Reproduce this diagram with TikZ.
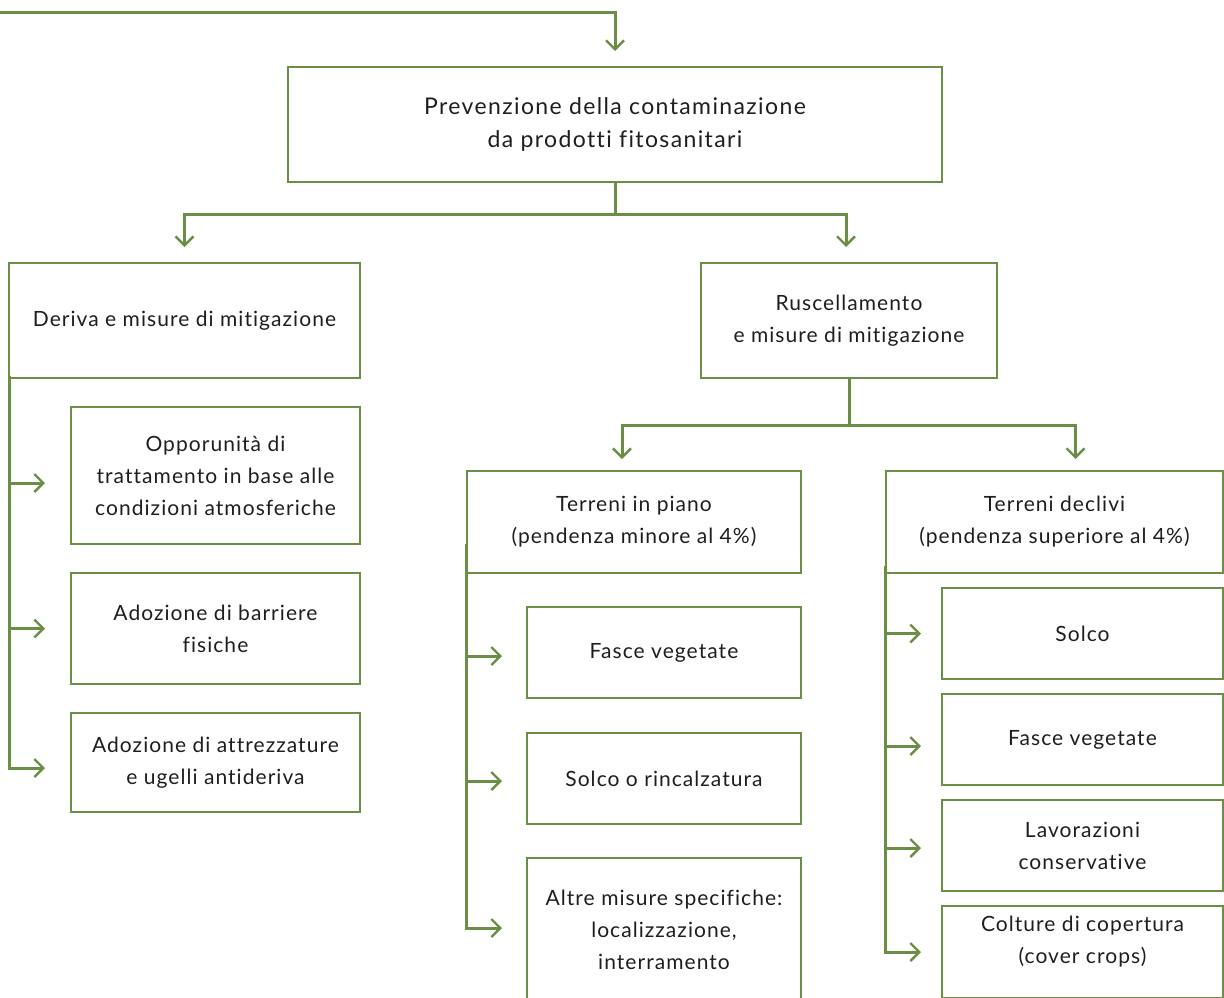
\documentclass[tikz,border=0pt]{standalone}
\usepackage{fontspec}
\setmainfont[Ligatures=CommonOff, LetterSpace=5]{Lato}
\newfontfamily\topfont[Ligatures=CommonOff, LetterSpace=6]{Lato}
\usetikzlibrary{arrows.meta,calc}
\definecolor{vg}{HTML}{6B8E47}
\definecolor{txt}{HTML}{1E1E1E}
\begin{document}
\begin{tikzpicture}[x=1pt,y=-1pt,
  box/.style={draw=vg, line width=2pt, text=txt, align=center,
    font=\fontsize{21}{32}\selectfont, inner sep=0pt},
  conn/.style={draw=vg, line width=3pt},
  arr/.style={conn, -{Straight Barb[length=9pt,width=18pt,line width=2.4pt]}}]
\useasboundingbox (0,0) rectangle (1224,997);
\clip (0,0) rectangle (1224,997);

% level 0
\node[box, minimum width=654, minimum height=115,
  font=\topfont\fontsize{23}{33}\selectfont] (top) at (615,124.5)
  {Prevenzione della contaminazione\\da prodotti fitosanitari};
% level 1
\node[box, minimum width=351, minimum height=115] (deriva) at (184.5,320.5)
  {Deriva e misure di mitigazione};
\node[box, minimum width=296, minimum height=115] (rusc) at (849,320.5)
  {Ruscellamento\\e misure di mitigazione};
% left children
\node[box, minimum width=289, minimum height=137] (L1) at (215.5,475.5)
  {Opporunità di\\trattamento in base alle\\condizioni atmosferiche};
\node[box, minimum width=289, minimum height=111] (L2) at (215.5,628.5)
  {Adozione di barriere\\fisiche};
\node[box, minimum width=289, minimum height=99] (L3) at (215.5,762.5)
  {Adozione di attrezzature\\e ugelli antideriva};
% level 2
\node[box, minimum width=334, minimum height=102] (piano) at (634,522)
  {Terreni in piano\\(pendenza minore al 4\%)};
\node[box, minimum width=337, minimum height=102] (decl) at (1054.5,522)
  {Terreni declivi\\(pendenza superiore al 4\%)};
% middle children
\node[box, minimum width=274, minimum height=91] (M1) at (664,652.5)
  {Fasce vegetate};
\node[box, minimum width=274, minimum height=91] (M2) at (664,778.5)
  {Solco o rincalzatura};
\node[box, minimum width=274, minimum height=144] (M3) at (664,930)
  {Altre misure specifiche:\\localizzazione,\\interramento};
% right children
\node[box, minimum width=281, minimum height=91] (R1) at (1082.5,633.5)
  {Solco};
\node[box, minimum width=281, minimum height=91] (R2) at (1082.5,739.5)
  {Fasce vegetate};
\node[box, minimum width=281, minimum height=91] (R3) at (1082.5,845.5)
  {Lavorazioni\\conservative};
\node[box, minimum width=281, minimum height=92,
  label={[text=txt, align=center, font=\fontsize{21}{32}\selectfont, yshift=10pt]center:{Colture di copertura\\(cover crops)}}]
  (R4) at (1082.5,952) {};

% connectors
\coordinate (s0) at (0,12);
\draw[arr, shorten >=15pt] (s0) -| (top.north);

\coordinate (j1) at (615,214);
\draw[conn] (top.south) -- (j1);
\draw[arr, shorten >=15pt] (j1) -| (deriva.north);
\draw[arr, shorten >=15pt] (j1) -| ([xshift=-3pt]rusc.north);

\coordinate (j2) at (849,425);
\draw[conn] (rusc.south) -- (j2);
\draw[arr, shorten >=11pt] (j2) -| ([xshift=-12pt]piano.north);
\draw[arr, shorten >=11pt] (j2) -| ([xshift=21pt]decl.north);

% left bus
\draw[arr, shorten >=25pt] ([shift={(1pt,3pt)}]deriva.south west) |- ([yshift=-5.5pt]L3.west);
\draw[arr, shorten >=25pt] ([xshift=1pt]deriva.south west |- L1.west) ++(0,7.5) -- ([yshift=-7.5pt]L1.west);
\draw[arr, shorten >=25pt] ([xshift=1pt]deriva.south west |- L2.west) -- (L2.west);

% middle bus
\draw[arr, shorten >=24pt] ([yshift=30pt]piano.south west) |- ([yshift=2pt]M3.west);
\draw[arr, shorten >=24pt] (piano.south west |- M1.west) ++(0,3.5) -- ([yshift=-3.5pt]M1.west);
\draw[arr, shorten >=24pt] (piano.south west |- M2.west) ++(0,2.5) -- ([yshift=-2.5pt]M2.west);

% right bus
\draw[arr, shorten >=20pt] ([yshift=8pt]decl.south west) |- (R4.west);
\draw[arr, shorten >=20pt] (decl.south west |- R1.west) -- (R1.west);
\draw[arr, shorten >=20pt] (decl.south west |- R2.west) ++(0,6.5) -- ([yshift=-6.5pt]R2.west);
\draw[arr, shorten >=20pt] (decl.south west |- R3.west) ++(0,2.5) -- ([yshift=-2.5pt]R3.west);
\end{tikzpicture}
\end{document}
